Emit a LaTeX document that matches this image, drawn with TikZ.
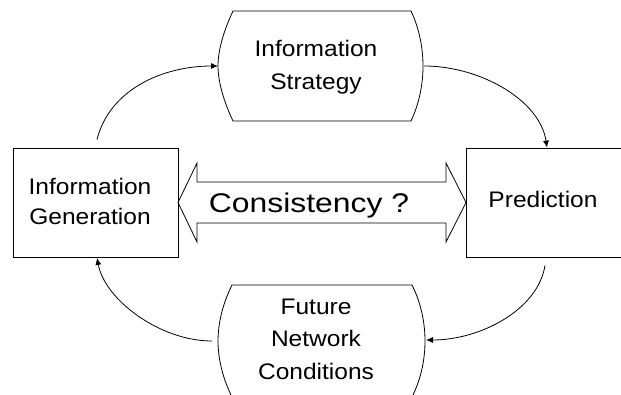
\documentclass[tikz,border=0pt]{standalone}
\usepackage{fontspec}
\usepackage{graphicx}
\setmainfont{Liberation Sans}
\usetikzlibrary{arrows.meta}
\newcommand\wx[1]{\scalebox{1.09}[1.0]{#1}}
\newcommand\wc[1]{\scalebox{1.18}[1.0]{#1}}
\begin{document}
\begin{tikzpicture}[x=1pt,y=-1pt,
  line width=0.8pt,
  boxnode/.style={draw,rectangle,inner sep=0pt,line width=0.8pt},
  lbl/.style={inner sep=0pt,align=center,font=\fontsize{22.5}{33}\selectfont},
  conn/.style={line width=0.8pt,-{Latex[length=7pt,width=6pt]}},
  plain/.style={line width=0.8pt}]
\useasboundingbox (0,0) rectangle (621,394);
% boxes
\node[boxnode,minimum width=165pt,minimum height=109pt] (ig) at (95.5,202.5) {};
\node[boxnode,minimum width=174pt,minimum height=109pt] (pr) at (553,202.5) {};
% rounded-side shapes
\draw (233,11) -- (411,11) .. controls (420,30) and (423,50) .. (423,66)
  .. controls (423,82) and (420,102) .. (411,121) -- (233,121)
  .. controls (224,102) and (218,82) .. (218,66)
  .. controls (218,50) and (224,30) .. (233,11) -- cycle;
\draw (232,285) -- (412,285) .. controls (422,305) and (425,325) .. (425,341)
  .. controls (425,357) and (422,377) .. (412,397) -- (232,397)
  .. controls (222,377) and (218,357) .. (218,341)
  .. controls (218,325) and (222,305) .. (232,285) -- cycle;
\coordinate (isL) at (218,66);
\coordinate (isR) at (424,66);
\coordinate (fnL) at (212,341);
\coordinate (fnR) at (426,340);
% double arrow
\draw (178,202.5) -- (197,163) -- (197,182) -- (446,182) -- (446,163) -- (466,202.5)
  -- (446,242) -- (446,223) -- (197,223) -- (197,242) -- cycle;
% texts
\node[lbl] (is) at (316,67.6) {\wx{Information}\\\wx{Strategy}};
\node[lbl,font=\fontsize{22.5}{30}\selectfont] (igt) at (90,201.8) {\wx{Information}\\\wx{Generation}};
\node[lbl] (prt) at (543,199.8) {\wx{Prediction}};
\node[lbl,font=\fontsize{22.5}{32.5}\selectfont] (fn) at (316,339.3) {\wx{Future}\\\wx{Network}\\\wx{Conditions}};
\node[lbl,font=\fontsize{27}{32}\selectfont] (cons) at (309,206) {\wc{Consistency ?}};
% connectors
\draw[conn] ([shift={(1.5,-8)}]ig.north) .. controls (110,88) and (165,66) .. (isL);
\draw[conn] (isR) .. controls (480,66) and (540,100) .. ([shift={(-6,0)}]pr.north);
\draw[conn] ([shift={(-8,8)}]pr.south) .. controls (538,310) and (480,340) .. (fnR);
\draw[conn] (fnL) .. controls (160,341) and (105,300) .. ([shift={(1.5,0.5)}]ig.south);
\end{tikzpicture}
\end{document}
